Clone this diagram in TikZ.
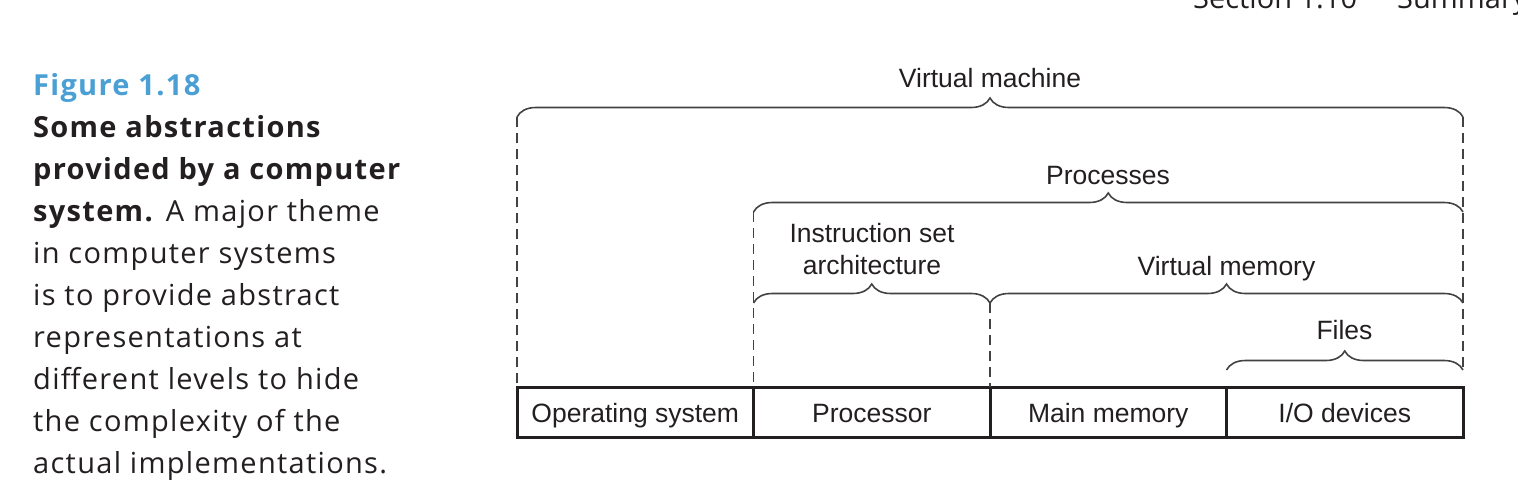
\documentclass[tikz,border=0pt]{standalone}
\usepackage{fontspec}
\setmainfont{Open Sans}[LetterSpace=4.5]
\newfontfamily\headfont{Open Sans}
\newfontfamily\diagfont{Liberation Sans}
\usetikzlibrary{positioning, calc, decorations.pathreplacing}
\definecolor{figblue}{RGB}{74,160,213}
\definecolor{ink}{RGB}{35,31,32}

\begin{document}
\begin{tikzpicture}[
    x=1pt, y=-1pt,
    node distance=0pt,
    cell/.style={rectangle, draw=ink, line width=3pt, minimum width=236.5pt, minimum height=50pt, inner sep=0pt, outer sep=0pt, text height=20pt, text depth=0pt, font=\diagfont\fontsize{26.5}{32}\selectfont, text=ink},
    lbl/.style={anchor=base, inner sep=0pt, align=center, font=\diagfont\fontsize{26.5}{32}\selectfont, text=ink},
    capline/.style={anchor=base west, inner sep=0pt, font=\fontsize{29}{42}\selectfont, text=ink},
    span/.style={decorate, decoration={brace, amplitude=19pt}, line width=1.6pt, draw=ink!85},
    guide/.style={dash pattern=on 10pt off 6pt, line width=1.4pt, draw=ink!85}
]
\useasboundingbox (0,0) rectangle (1518,490);
\clip (0,0) rectangle (1518,490);

\node[capline, font=\headfont\fontsize{29}{42}\selectfont] (sec) at (1193,8) {Section 1.10};
\node[capline, font=\headfont\fontsize{29}{42}\selectfont] (sum) at (1397,8) {Summary};

\node[capline, text=figblue, font=\bfseries\fontsize{29}{42}\selectfont] (cap1) at (33,95) {Figure 1.18};
\node[capline, font=\bfseries\fontsize{29}{42}\selectfont] (cap2) at (33,137) {Some abstractions};
\node[capline, font=\bfseries\fontsize{29}{42}\selectfont] (cap3) at (33,179) {provided by a computer};
\node[capline] (cap4) at (33,221) {\textbf{system.} A major theme};
\node[capline] (cap5) at (33,263) {in computer systems};
\node[capline] (cap6) at (33,305) {is to provide abstract};
\node[capline] (cap7) at (33,347) {representations at};
\node[capline] (cap8) at (33,389) {different levels to hide};
\node[capline] (cap9) at (33,431) {the complexity of the};
\node[capline] (cap10) at (33,473) {actual implementations.};

\node[cell] (os) at (635.25,412) {Operating system};
\node[cell, right=of os] (cpu) {Processor};
\node[cell, right=of cpu] (mem) {Main memory};
\node[cell, right=of mem] (io) {I/O devices};

\coordinate (vmL) at (517,117);
\coordinate (vmR) at (1463,117);
\coordinate (prL) at (753.5,212);
\coordinate (prR) at (1463,212);
\coordinate (isaL) at (753.5,303);
\coordinate (isaR) at (990,303);
\coordinate (vmemR) at (1463,303);
\coordinate (fiL) at (1226.5,370);
\coordinate (fiR) at (1463,370);

\draw[span] (vmL) -- (vmR);
\draw[span] (prL) -- (prR);
\draw[span] (isaL) -- (isaR);
\draw[span] (isaR) -- (vmemR);
\draw[span] (fiL) -- (fiR);

\draw[guide] (vmL) -- (os.north west);
\draw[guide] (prL) -- (cpu.north west);
\draw[guide] (isaR) -- (mem.north west);
\draw[guide] (vmR) -- (fiR);

\node[lbl] (vm) at (990,87) {Virtual machine};
\node[lbl] (proc) at (1108,184) {Processes};
\node[lbl] (isa) at (872,274) {Instruction set\\architecture};
\node[lbl] (vmem) at (1226.5,275) {Virtual memory};
\node[lbl] (files) at (1344.5,339) {Files};
\end{tikzpicture}
\end{document}
